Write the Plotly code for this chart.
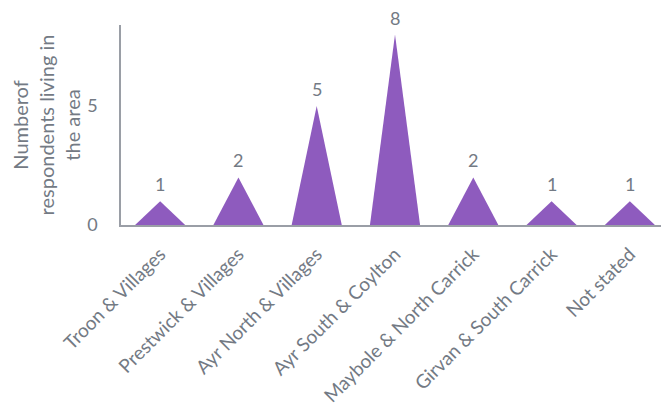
import plotly.graph_objects as go

categories = ["Troon & Villages", "Prestwick & Villages", "Ayr North & Villages",
              "Ayr South & Coylton", "Maybole & North Carrick", "Girvan & South Carrick",
              "Not stated"]
values = [1, 2, 5, 8, 2, 1, 1]
y_ticks = [0, 5]

PURPLE = "#8e5bbe"
TEXT = "#737a84"
AXIS = "#9a9ea6"
FONT = "Lato"
HW = 0.32  # half width of each peak in category units

fig = go.Figure()
for i, v in enumerate(values):
    fig.add_trace(go.Scatter(
        x=[i - HW, i, i + HW, i - HW], y=[0, v, 0, 0],
        mode="lines", fill="toself", fillcolor=PURPLE,
        line=dict(color=PURPLE, width=0), hoverinfo="skip", showlegend=False))
    fig.add_annotation(x=i, y=v, text=str(v), showarrow=False, yanchor="bottom",
                       yshift=4, font=dict(family=FONT, size=18, color=TEXT))

fig.update_layout(
    width=661, height=398,
    margin=dict(l=113, r=0, t=17, b=181, autoexpand=False),
    plot_bgcolor="white", paper_bgcolor="white",
    font=dict(family=FONT, color=TEXT, size=18),
    xaxis=dict(range=[-0.5, 6.5], tickmode="array",
               tickvals=list(range(len(categories))), ticktext=categories,
               tickangle=-45, showgrid=False, zeroline=False, showline=True,
               linecolor=AXIS, linewidth=1.5, ticks="outside", ticklen=9,
               tickcolor="rgba(0,0,0,0)", automargin=False,
               tickfont=dict(family=FONT, size=19, color=TEXT)),
    yaxis=dict(range=[0, 8.4], tickmode="array", tickvals=y_ticks,
               showgrid=False, zeroline=False, showline=True, linecolor=AXIS,
               linewidth=1.5, ticks="outside", ticklen=18, automargin=False,
               tickcolor="rgba(0,0,0,0)",
               tickfont=dict(family=FONT, size=18, color=TEXT),
               title=dict(text="Numberof<br>respondents living in<br>the area",
                          font=dict(family=FONT, size=20, color=TEXT), standoff=8)),
)

fig.write_html("out.html")
